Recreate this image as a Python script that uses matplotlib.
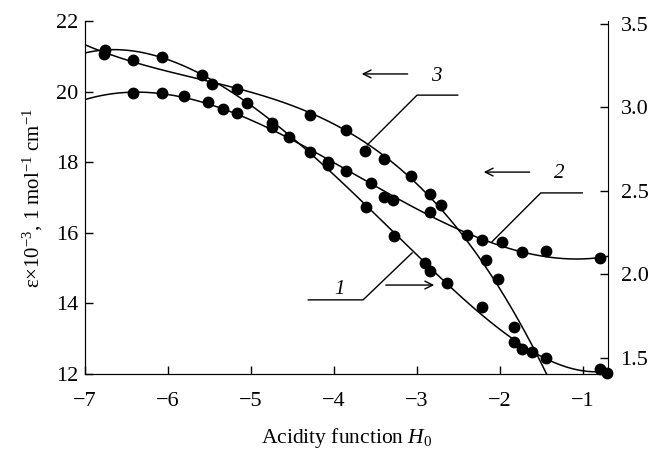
import numpy as np
import matplotlib
matplotlib.use("Agg")
import matplotlib.pyplot as plt

plt.rcParams['font.family'] = ['Liberation Serif', 'DejaVu Serif']
plt.rcParams['mathtext.fontset'] = 'custom'
plt.rcParams['mathtext.rm'] = 'Liberation Serif'
plt.rcParams['mathtext.it'] = 'Liberation Serif:italic'

# curve 1 (right axis)
h0_1 = [-6.76, -6.07, -5.59, -5.05, -4.75, -4.29, -4.07, -3.61, -3.28, -2.90,
        -2.84, -2.64, -2.22, -1.83, -1.73, -1.61, -1.45, -0.80, -0.71]
eps_1 = [3.344, 3.302, 3.195, 3.027, 2.907, 2.734, 2.656, 2.404, 2.231, 2.069,
         2.021, 1.949, 1.805, 1.596, 1.554, 1.536, 1.500, 1.434, 1.410]

# curve 2 (left axis)
h0_2 = [-6.42, -6.07, -5.81, -5.52, -5.34, -5.17, -4.75, -4.54, -4.07, -3.86,
        -3.55, -3.40, -3.29, -2.84, -2.40, -2.22, -1.98, -1.73, -1.45, -0.80]
eps_2 = [19.96, 19.96, 19.88, 19.71, 19.51, 19.39, 19.00, 18.72, 18.01, 17.75,
         17.41, 17.01, 16.93, 16.59, 15.94, 15.80, 15.74, 15.46, 15.48, 15.29]

# curve 3 (left axis)
h0_3 = [-6.77, -6.42, -5.47, -5.17, -4.29, -3.86, -3.63, -3.40, -3.07, -2.84,
        -2.71, -2.17, -2.02, -1.83]
eps_3 = [21.07, 20.90, 20.22, 20.07, 19.34, 18.91, 18.32, 18.09, 17.61, 17.10,
         16.79, 15.23, 14.69, 13.33]

fig = plt.figure(figsize=(6.52, 4.53), dpi=100)
ax = fig.add_axes([85/652, 1-374/453, 523/652, 353/453])
ax2 = ax.twinx()

xx = np.linspace(-7, -0.7, 300)
c1 = np.polyfit(h0_1, eps_1, 5)
w2 = np.ones(len(h0_2))
w2[0] = 2
w2[-1] = 4
c2 = np.polyfit(h0_2, eps_2, 3, w=w2)
w3 = np.ones(len(h0_3))
w3[:2] = 3
c3 = np.polyfit(h0_3, eps_3, 3, w=w3)

lw = 1.1
ms = 7.5
ax.plot(xx, np.polyval(c2, xx), color='black', lw=lw)
ax.plot(h0_2, eps_2, 'o', color='black', ms=ms)
ax.plot(xx, np.polyval(c3, xx), color='black', lw=lw)
ax.plot(h0_3, eps_3, 'o', color='black', ms=ms)
ax2.plot(xx, np.polyval(c1, xx), color='black', lw=lw)
ax2.plot(h0_1, eps_1, 'o', color='black', ms=ms, clip_on=False)

ax.set_xlim(-7, -0.7)
ax.set_ylim(12, 22)
ax2.set_ylim(1.404, 3.518)
ax.set_xticks([-7, -6, -5, -4, -3, -2, -1])
ax.set_xticklabels(['\u22127', '\u22126', '\u22125', '\u22124', '\u22123', '\u22122', '\u22121'])
ax.set_yticks([12, 14, 16, 18, 20, 22])
ax2.set_yticks([1.5, 2.0, 2.5, 3.0, 3.5])
ax2.set_yticklabels(['1.5', '2.0', '2.5', '3.0', '3.5'])

for a in (ax, ax2):
    a.spines['top'].set_visible(False)
    a.tick_params(direction='in', length=6, width=1, labelsize=16)
ax.tick_params(axis='x', pad=13)
ax.tick_params(axis='y', pad=5)
ax2.tick_params(axis='y', pad=9)
ax.spines['right'].set_visible(False)

ax.set_xlabel('Acidity function $\\mathit{H}_0$', fontsize=15.5, labelpad=11)
ax.set_ylabel('\u03b5\u00d710$^{\u22123}$, 1 mol$^{\u22121}$ cm$^{\u22121}$', fontsize=15, labelpad=8)

# labels, arrows, leaders
arr = dict(arrowstyle='->', color='black', lw=1, mutation_scale=14)
ax.annotate('', xy=(-3.70, 20.50), xytext=(-3.08, 20.50), arrowprops=arr)
ax.annotate('', xy=(-2.23, 17.72), xytext=(-1.61, 17.72), arrowprops=arr)
ax.annotate('', xy=(-2.76, 14.52), xytext=(-3.41, 14.52), arrowprops=arr)
ax.text(-2.77, 20.44, '3', fontsize=15, style='italic', ha='center', va='center')
ax.text(-1.29, 17.69, '2', fontsize=15, style='italic', ha='center', va='center')
ax.text(-3.93, 14.38, '1', fontsize=15, style='italic', ha='center', va='center')
ax.plot([-2.51, -3.00, -3.60], [19.90, 19.90, 18.49], color='black', lw=1)
ax.plot([-1.01, -1.51, -2.10], [17.13, 17.13, 15.74], color='black', lw=1)
ax.plot([-4.31, -3.65, -3.06], [14.10, 14.10, 15.43], color='black', lw=1)

fig.savefig('out.png', dpi=100)
